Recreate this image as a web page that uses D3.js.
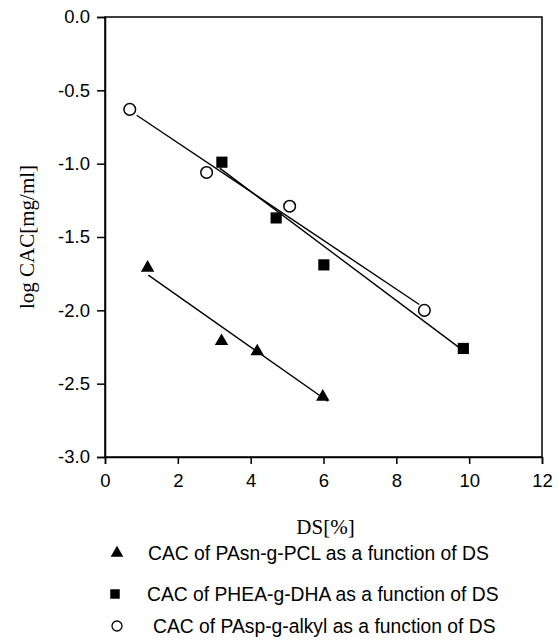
<!DOCTYPE html>
<html>
<head>
<meta charset="utf-8">
<script src="https://cdn.jsdelivr.net/npm/d3@7"></script>
<style>
  body { margin: 0; background: #fff; }
  .canvas svg { display: block; }
</style>
</head>
<body>
<div class="canvas"></div>
<script>
// PAsn-g-PCL (triangles)
const pcl = [
  { ds: 1.17, cac: -1.71 },
  { ds: 3.20, cac: -2.21 },
  { ds: 4.18, cac: -2.28 },
  { ds: 5.98, cac: -2.59 }
]
// PHEA-g-DHA (filled squares)
const dha = [
  { ds: 3.21, cac: -0.99 },
  { ds: 4.70, cac: -1.37 },
  { ds: 6.01, cac: -1.69 },
  { ds: 9.84, cac: -2.26 }
]
// PAsp-g-alkyl (open circles)
const alkyl = [
  { ds: 0.68, cac: -0.63 },
  { ds: 2.79, cac: -1.06 },
  { ds: 5.07, cac: -1.29 },
  { ds: 8.77, cac: -2.00 }
]
// fit lines, end points
const pclFit = [{ ds: 1.19, cac: -1.76 }, { ds: 6.12, cac: -2.62 }]
const dhaFit = [{ ds: 3.15, cac: -1.03 }, { ds: 9.81, cac: -2.27 }]
const alkylFit = [{ ds: 0.87, cac: -0.67 }, { ds: 8.63, cac: -1.96 }]

const xTicks = [0, 2, 4, 6, 8, 10, 12]
const yTicks = [0, -0.5, -1, -1.5, -2, -2.5, -3]
const legendLabels = [
  'CAC of PAsn-g-PCL as a function of DS',
  'CAC of PHEA-g-DHA as a function of DS',
  'CAC of PAsp-g-alkyl as a function of DS'
]

const width = 558
const height = 642
const margin = { top: 17, left: 105, right: 16, bottom: 185 }
const graphWidth = width - margin.left - margin.right
const graphHeight = height - margin.top - margin.bottom

const svg = d3.select('.canvas')
  .append('svg')
    .attr('width', width)
    .attr('height', height)

const graph = svg.append('g')
  .attr('transform', `translate(${margin.left}, ${margin.top})`)

const x = d3.scaleLinear()
  .domain([0, 12])
  .range([0, graphWidth])

const y = d3.scaleLinear()
  .domain([-3, 0])
  .range([graphHeight, 0])

// frame
graph.append('rect')
  .attr('width', graphWidth)
  .attr('height', graphHeight)
  .attr('fill', 'none')
  .attr('stroke', '#000')
  .attr('stroke-width', 1.5)

const tickFont = '"Liberation Sans", Arial, sans-serif'

const xAxisGroup = graph.append('g')
  .attr('transform', `translate(0, ${graphHeight})`)
  .call(d3.axisBottom(x).tickValues(xTicks).tickSize(7).tickPadding(10).tickFormat(d => d))

const yAxisGroup = graph.append('g')
  .call(d3.axisLeft(y).tickValues(yTicks).tickSize(8).tickPadding(7).tickFormat(d => d.toFixed(1)))

graph.selectAll('.domain').attr('stroke-width', 1.5)
graph.selectAll('.tick line').attr('stroke-width', 1.5)
graph.selectAll('.tick text')
  .attr('font-family', tickFont)
  .attr('font-size', 18.5)
  .attr('fill', '#000')

// axis titles
svg.append('text')
  .attr('x', margin.left + x(6) + 2)
  .attr('y', 527)
  .attr('text-anchor', 'middle')
  .attr('dominant-baseline', 'central')
  .attr('font-family', '"Liberation Serif", "Times New Roman", serif')
  .attr('font-size', 21)
  .text('DS[%]')

svg.append('text')
  .attr('transform', `translate(27, ${margin.top + y(-1.5)}) rotate(-90)`)
  .attr('text-anchor', 'middle')
  .attr('dominant-baseline', 'central')
  .attr('font-family', '"Liberation Serif", "Times New Roman", serif')
  .attr('font-size', 21)
  .text('log CAC[mg/ml]')

// fit lines
const line = d3.line()
  .x(d => x(d.ds))
  .y(d => y(d.cac))

graph.selectAll('path.fit')
  .data([pclFit, dhaFit, alkylFit])
  .enter()
  .append('path')
    .attr('class', 'fit')
    .attr('d', line)
    .attr('fill', 'none')
    .attr('stroke', '#000')
    .attr('stroke-width', 1.4)

// markers
const triangle = d3.symbol().type(d3.symbolTriangle).size(78)
const square = d3.symbol().type(d3.symbolSquare).size(125)

graph.selectAll('path.tri')
  .data(pcl)
  .enter()
  .append('path')
    .attr('class', 'tri')
    .attr('d', triangle)
    .attr('transform', d => `translate(${x(d.ds)}, ${y(d.cac)})`)
    .attr('fill', '#000')

graph.selectAll('path.sq')
  .data(dha)
  .enter()
  .append('path')
    .attr('class', 'sq')
    .attr('d', square)
    .attr('transform', d => `translate(${x(d.ds)}, ${y(d.cac)})`)
    .attr('fill', '#000')

graph.selectAll('circle.pt')
  .data(alkyl)
  .enter()
  .append('circle')
    .attr('class', 'pt')
    .attr('cx', d => x(d.ds))
    .attr('cy', d => y(d.cac))
    .attr('r', 5.8)
    .attr('fill', '#fff')
    .attr('stroke', '#000')
    .attr('stroke-width', 1.5)

// legend
const legendRows = [553, 594, 626]
const legendTextX = [148, 147, 153]
const legend = svg.append('g')

legend.append('path')
  .attr('d', d3.symbol().type(d3.symbolTriangle).size(70))
  .attr('transform', `translate(117, ${legendRows[0]})`)
  .attr('fill', '#000')

legend.append('path')
  .attr('d', d3.symbol().type(d3.symbolSquare).size(90))
  .attr('transform', `translate(115, ${legendRows[1]})`)
  .attr('fill', '#000')

legend.append('circle')
  .attr('cx', 117)
  .attr('cy', legendRows[2])
  .attr('r', 5)
  .attr('fill', '#fff')
  .attr('stroke', '#000')
  .attr('stroke-width', 1.3)

legend.selectAll('text')
  .data(legendLabels)
  .enter()
  .append('text')
    .attr('x', (d, i) => legendTextX[i])
    .attr('y', (d, i) => legendRows[i])
    .attr('dominant-baseline', 'central')
    .attr('font-family', tickFont)
    .attr('font-size', 19.3)
    .attr('fill', '#000')
    .text(d => d)
</script>
</body>
</html>
